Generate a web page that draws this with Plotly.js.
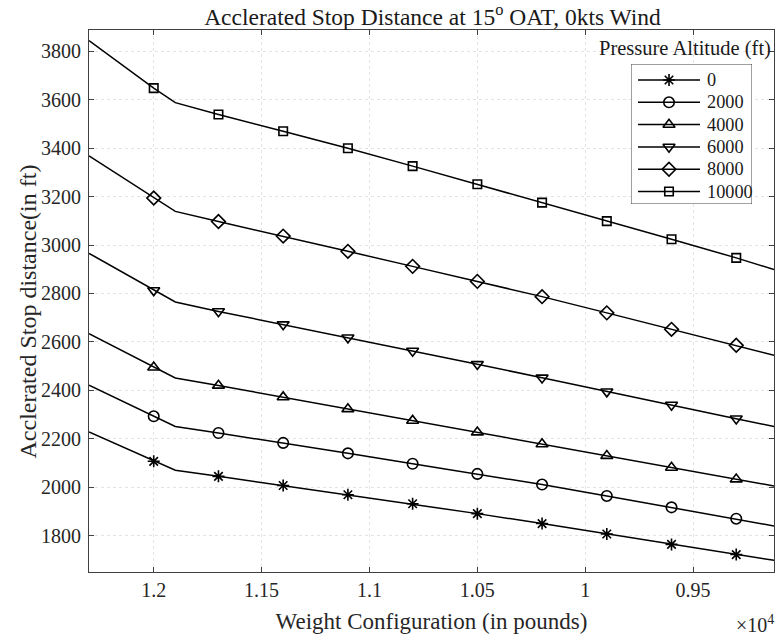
<!DOCTYPE html>
<html>
<head>
<meta charset="utf-8">
<script src="https://cdn.plot.ly/plotly-3.0.1.min.js"></script>
<style>html,body{margin:0;padding:0;background:#fff;}#chart{width:778px;height:637px;}</style>
</head>
<body>
<div id="chart"></div>
<script>
// Weight configuration (lb) at each plotted point
const weights = [12300, 12000, 11900, 11700, 11400, 11100, 10800, 10500, 10200, 9900, 9600, 9300, 9125];
// Accelerated stop distance (ft) per pressure altitude
const alt0     = [2228, 2107, 2070, 2045, 2007, 1969, 1932, 1891, 1850, 1807, 1764, 1722, 1698];
const alt2000  = [2421, 2293, 2251, 2224, 2183, 2140, 2097, 2055, 2011, 1964, 1917, 1870, 1840];
const alt4000  = [2634, 2495, 2451, 2420, 2372, 2323, 2275, 2227, 2178, 2130, 2081, 2033, 2005];
const alt6000  = [2966, 2813, 2765, 2726, 2672, 2618, 2563, 2508, 2452, 2395, 2340, 2283, 2251];
const alt8000  = [3368, 3194, 3139, 3097, 3037, 2974, 2912, 2850, 2787, 2720, 2652, 2586, 2545];
const alt10000 = [3844, 3648, 3588, 3539, 3470, 3400, 3326, 3251, 3175, 3099, 3024, 2947, 2899];
const seriesNames = ['0', '2000', '4000', '6000', '8000', '10000'];
const seriesData = [alt0, alt2000, alt4000, alt6000, alt8000, alt10000];
const xTickVals = [12000, 11500, 11000, 10500, 10000, 9500];
const xTickText = ['1.2', '1.15', '1.1', '1.05', '1', '0.95'];
const yTickVals = [1800, 2000, 2200, 2400, 2600, 2800, 3000, 3200, 3400, 3600, 3800];

const symbols = ['asterisk-open', 'circle-open', 'triangle-up-open', 'triangle-down-open', 'diamond-open', 'square-open'];
const sizes = [10, 10.5, 10.5, 10.5, 10.5, 8.5];
// markers drawn every 300 lb from 12000 lb downward
const markerIdx = weights.map((w, i) => (w <= 12000 && (12000 - w) % 300 === 0) ? i : -1).filter(i => i >= 0);

const FONT = 'Liberation Serif';
const INK = '#1a1a1a';
const AX = '#404040';

// figure geometry (px)
const W = 778, H = 637, ML = 89, MR = 4, MT = 30, MB = 65;
const PW = W - ML - MR, PH = H - MT - MB;
const px2x = p => (p - ML) / PW;
const py2y = p => (H - MB - p) / PH;
// legend box geometry (px)
const LB = {l: 631, r: 752, t: 64, b: 204};
const LBW = LB.r - LB.l, LBH = LB.b - LB.t;
const rowY = i => 16 + 22.3 * i;

const traces = seriesData.map((ys, k) => ({
  x: weights, y: ys, name: seriesNames[k], type: 'scatter', mode: 'lines+markers',
  xaxis: 'x', yaxis: 'y', showlegend: false,
  line: {color: '#000', width: 1.5},
  marker: {symbol: symbols[k], size: sizes[k], color: '#000', line: {color: '#000', width: 1.6}},
  selectedpoints: markerIdx,
  selected: {marker: {opacity: 1}},
  unselected: {marker: {opacity: 0}}
}));

// legend drawn in its own small subplot
traces.push({
  x: [0, LBW, LBW, 0, 0], y: [0, 0, LBH, LBH, 0], xaxis: 'x2', yaxis: 'y2',
  type: 'scatter', mode: 'lines', fill: 'toself', fillcolor: '#fff',
  line: {color: AX, width: 1}, showlegend: false, hoverinfo: 'skip'
});
seriesNames.forEach((nm, k) => {
  traces.push({
    x: [7, 38, 69], y: [rowY(k), rowY(k), rowY(k)], xaxis: 'x2', yaxis: 'y2',
    type: 'scatter', mode: 'lines+markers', showlegend: false, hoverinfo: 'skip',
    line: {color: '#000', width: 1.5},
    marker: {symbol: symbols[k], size: sizes[k], color: '#000', line: {color: '#000', width: 1.6}},
    selectedpoints: [1], selected: {marker: {opacity: 1}}, unselected: {marker: {opacity: 0}}
  });
});

const mkAxis = () => ({
  showline: true, mirror: 'ticks', linecolor: AX, linewidth: 1,
  ticks: 'inside', ticklen: 5, tickcolor: AX, tickwidth: 1,
  showgrid: true, gridcolor: '#e3e3e3', griddash: 'dot', gridwidth: 1,
  zeroline: false, tickfont: {family: FONT, size: 20, color: '#262626'}
});

const annotations = [
  {text: 'Pressure Altitude (ft)', xref: 'paper', yref: 'paper', x: px2x(773), y: py2y(48),
   xanchor: 'right', yanchor: 'middle', showarrow: false,
   font: {family: FONT, size: 20.5, color: INK}},
  {text: '×10<sup>4</sup>', xref: 'paper', yref: 'paper', x: px2x(776), y: py2y(624),
   xanchor: 'right', yanchor: 'middle', showarrow: false,
   font: {family: FONT, size: 20, color: '#262626'}},
  {text: 'Acclerated Stop distance(in ft)', xref: 'paper', yref: 'paper', x: px2x(27), y: py2y(311.5),
   xanchor: 'center', yanchor: 'middle', textangle: -90, showarrow: false,
   font: {family: FONT, size: 24, color: '#262626'}}
];
seriesNames.forEach((nm, k) => {
  annotations.push({text: nm, xref: 'x2', yref: 'y2', x: 74, y: rowY(k),
    xanchor: 'left', yanchor: 'middle', showarrow: false,
    font: {family: FONT, size: 18.3, color: INK}});
});

const layout = {
  width: W, height: H,
  margin: {l: ML, r: MR, t: MT, b: MB},
  paper_bgcolor: '#fff', plot_bgcolor: '#fff',
  font: {family: FONT, color: '#262626', size: 20},
  showlegend: false,
  title: {text: 'Acclerated Stop Distance at 15<sup>o</sup> OAT, 0kts Wind',
          font: {family: FONT, size: 23.5, color: INK},
          x: (432.5) / W, xanchor: 'center', y: 1 - 17 / H, yanchor: 'middle', yref: 'container'},
  xaxis: Object.assign(mkAxis(), {
    range: [12300, 9125], tickmode: 'array', tickvals: xTickVals, ticktext: xTickText,
    title: {text: 'Weight Configuration (in pounds)', font: {family: FONT, size: 23, color: '#262626'}, standoff: 12}
  }),
  yaxis: Object.assign(mkAxis(), {
    range: [1650, 3888], tickmode: 'array', tickvals: yTickVals, ticklabelstandoff: 3
  }),
  xaxis2: {domain: [px2x(LB.l), px2x(LB.r)], anchor: 'y2', range: [0, LBW], visible: false, fixedrange: true},
  yaxis2: {domain: [py2y(LB.b), py2y(LB.t)], anchor: 'x2', range: [LBH, 0], visible: false, fixedrange: true},
  annotations: annotations
};

Plotly.newPlot('chart', traces, layout, {displayModeBar: false, staticPlot: true});
</script>
</body>
</html>
